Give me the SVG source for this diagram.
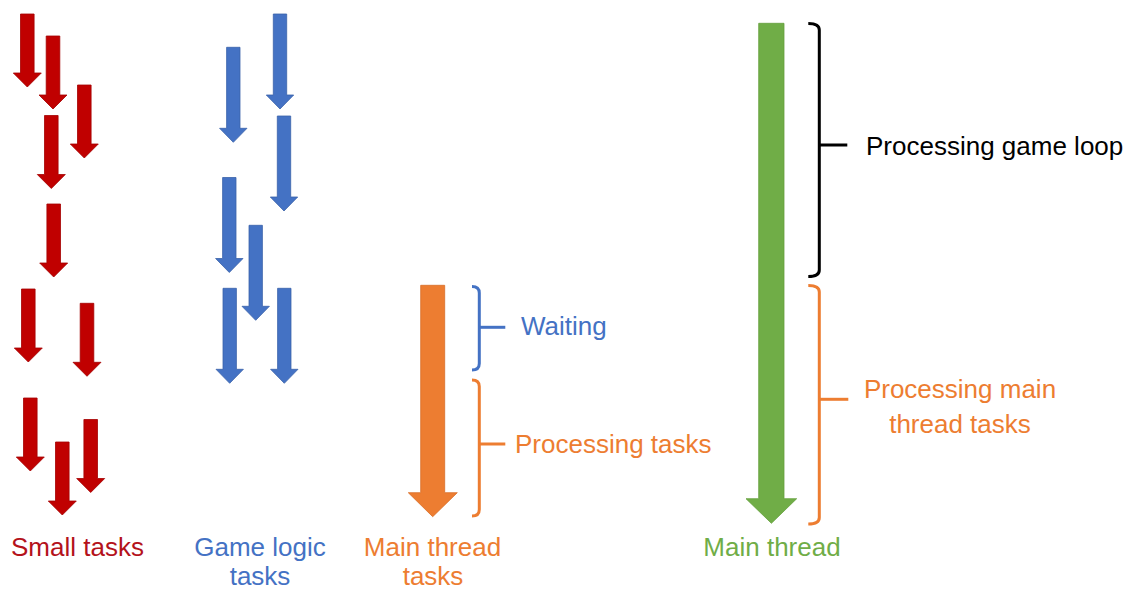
<svg xmlns="http://www.w3.org/2000/svg" xmlns:xlink="http://www.w3.org/1999/xlink" width="1130" height="592" viewBox="0 0 1130 592">
<style>
  text { font-family: "Liberation Sans", Arial, sans-serif; font-size: 26px; }
  .red { fill: #C00000; stroke: #A50000; stroke-width: 0.8; }
  .blue { fill: #4472C4; stroke: #3A62AA; stroke-width: 0.8; }
  .brace { fill: none; stroke-width: 3; stroke-linecap: butt; stroke-linejoin: round; }
  .t-red { fill: #B4121B; }
  .t-blue { fill: #4472C4; }
  .t-orange { fill: #ED7D31; }
  .t-green { fill: #70AD47; }
  .t-black { fill: #000000; }
</style>
<defs>
  <polygon id="redArrow" points="-6.8,0 6.8,0 6.8,59 14,59 0,73 -14,59 -6.8,59"/>
  <polygon id="blueArrow" points="-6.7,0 6.7,0 6.7,81 13.7,81 0,95 -13.7,81 -6.7,81"/>
</defs>

<g id="small-tasks" class="red">
  <use href="#redArrow" x="27.3" y="14"/>
  <use href="#redArrow" x="53" y="36"/>
  <use href="#redArrow" x="84.3" y="85"/>
  <use href="#redArrow" x="51.3" y="115.5"/>
  <use href="#redArrow" x="53.7" y="204"/>
  <use href="#redArrow" x="28.3" y="289"/>
  <use href="#redArrow" x="87" y="303.3"/>
  <use href="#redArrow" x="30.3" y="398"/>
  <use href="#redArrow" x="62.3" y="442"/>
  <use href="#redArrow" x="90.7" y="419.5"/>
</g>

<g id="game-logic-tasks" class="blue">
  <use href="#blueArrow" x="233.3" y="47.3"/>
  <use href="#blueArrow" x="280" y="14"/>
  <use href="#blueArrow" x="284" y="116"/>
  <use href="#blueArrow" x="229.3" y="177.5"/>
  <use href="#blueArrow" x="255.7" y="225.3"/>
  <use href="#blueArrow" x="229.7" y="288.3"/>
  <use href="#blueArrow" x="284.3" y="288.3"/>
</g>

<g id="main-thread-tasks">
  <polygon points="420.7,285.3 444.7,285.3 444.7,492.7 457.3,492.7 432.7,516.7 408.3,492.7 420.7,492.7" fill="#ED7D31" stroke="#D86E28" stroke-width="0.8"/>
</g>

<g id="main-thread">
  <polygon points="758.7,23.3 784,23.3 784,498.7 796.7,498.7 771.4,523.3 746,498.7 758.7,498.7" fill="#70AD47" stroke="#64A03D" stroke-width="0.8"/>
</g>

<g id="connectors">
  <g id="brace-waiting" class="brace" stroke="#4472C4">
    <path d="M472,286.5 Q479.3,286.5 479.3,293 L479.3,363.5 Q479.3,370 472,370"/>
    <path d="M479.3,327.3 L505.3,327.3"/>
  </g>
  <g id="brace-processing-tasks" class="brace" stroke="#ED7D31">
    <path d="M472,380 Q479.3,380 479.3,386.5 L479.3,509.5 Q479.3,516 472,516"/>
    <path d="M479.3,444 L505.3,444"/>
  </g>
  <g id="brace-game-loop" class="brace" stroke="#000000">
    <path d="M808.3,23.5 Q819.3,23.5 819.3,30 L819.3,270 Q819.3,276.5 808.3,276.5"/>
    <path d="M819.3,145 L847.3,145"/>
  </g>
  <g id="brace-main-tasks" class="brace" stroke="#ED7D31">
    <path d="M808.3,285.5 Q819.3,285.5 819.3,292 L819.3,517.5 Q819.3,524 808.3,524"/>
    <path d="M819.3,399.3 L848.3,399.3"/>
  </g>
</g>

<g id="labels">
  <text class="t-blue" x="521" y="335">Waiting</text>
  <text class="t-orange" x="515" y="453">Processing tasks</text>
  <text class="t-black" x="866" y="155">Processing game loop</text>
  <text class="t-orange" x="960" y="398" text-anchor="middle">Processing main</text>
  <text class="t-orange" x="960" y="433" text-anchor="middle">thread tasks</text>
  <text class="t-red" x="77.5" y="556" text-anchor="middle">Small tasks</text>
  <text class="t-blue" x="260" y="556" text-anchor="middle">Game logic</text>
  <text class="t-blue" x="260" y="585" text-anchor="middle">tasks</text>
  <text class="t-orange" x="432.5" y="556" text-anchor="middle">Main thread</text>
  <text class="t-orange" x="433" y="585" text-anchor="middle">tasks</text>
  <text class="t-green" x="772" y="556" text-anchor="middle">Main thread</text>
</g>
</svg>
